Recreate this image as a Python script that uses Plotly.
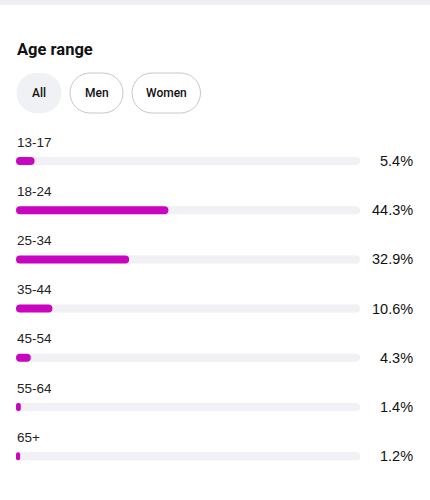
import plotly.graph_objects as go

categories = ["13-17", "18-24", "25-34", "35-44", "45-54", "55-64", "65+"]
values = [5.4, 44.3, 32.9, 10.6, 4.3, 1.4, 1.2]
value_labels = ["5.4%", "44.3%", "32.9%", "10.6%", "4.3%", "1.4%", "1.2%"]
full_scale = [100] * 7
buttons = ["All", "Men", "Women"]
title = "Age range"

W, H = 430, 500
ML, MR, MT, MB = 16, 70, 130, 20
PW = W - ML - MR
PH = H - MT - MB
ROW0, ROWSTEP = 161, 49.2

def py_to_y(py):
    return (py - ROW0) / ROWSTEP

def px_to_paper(px):
    return (px - ML) / PW

def py_to_paper(py):
    return (H - MB - py) / PH

idx = list(range(len(categories)))
bar_w = 8 / ROWSTEP
zero_base = [0] * len(categories)

fig = go.Figure()
fig.add_trace(go.Bar(
    x=full_scale, base=zero_base, y=idx, orientation="h", width=bar_w,
    marker=dict(color="#f0f0f5", line=dict(width=0), cornerradius=4), hoverinfo="skip",
))
fig.add_trace(go.Bar(
    x=values, base=zero_base, y=idx, orientation="h", width=bar_w,
    marker=dict(color="#c806bf", line=dict(width=0), cornerradius=4),
    hovertext=[f"{c}: {l}" for c, l in zip(categories, value_labels)], hoverinfo="text",
))

annotations = []
for i, (c, lab) in enumerate(zip(categories, value_labels)):
    annotations.append(dict(
        x=px_to_paper(15), y=py_to_paper(ROW0 + i * ROWSTEP - 19), xref="paper", yref="paper", text=c,
        showarrow=False, xanchor="left", yanchor="middle",
        font=dict(family="Liberation Sans", size=13.5, color="#222222"),
    ))
    annotations.append(dict(
        x=px_to_paper(415), y=py_to_paper(ROW0 + i * ROWSTEP), xref="paper", yref="paper", text=lab,
        showarrow=False, xanchor="right", yanchor="middle",
        font=dict(family="Liberation Sans", size=14.5, color="#111111"),
    ))

annotations.append(dict(
    x=px_to_paper(15), y=py_to_paper(50), xref="paper", yref="paper", text=title,
    showarrow=False, xanchor="left", yanchor="middle",
    font=dict(family="Roboto", size=16.5, color="#111111", weight=700),
))

shapes = [dict(type="rect", xref="paper", yref="paper", x0=px_to_paper(0), x1=px_to_paper(W),
               y0=py_to_paper(5), y1=py_to_paper(0), fillcolor="#eef0f5", line=dict(width=0), layer="below")]

def pill(w, h):
    r = h / 2
    k = 0.5523 * r
    x0, x1 = -w / 2, w / 2
    y0, y1 = -h / 2, h / 2
    return (f"M {x0 + r},{y0} L {x1 - r},{y0} "
            f"C {x1 - r + k},{y0} {x1},{-k} {x1},0 "
            f"C {x1},{k} {x1 - r + k},{y1} {x1 - r},{y1} "
            f"L {x0 + r},{y1} "
            f"C {x0 + r - k},{y1} {x0},{k} {x0},0 "
            f"C {x0},{-k} {x0 + r - k},{y0} {x0 + r},{y0} Z")

btn_boxes = [(16.5, 61.5), (70, 123), (132, 200.5)]
for i, (b, (bx0, bx1)) in enumerate(zip(buttons, btn_boxes)):
    cx = (bx0 + bx1) / 2
    w = bx1 - bx0
    if i == 0:
        fill, line = "#f0f1f5", dict(width=0)
    else:
        fill, line = "#ffffff", dict(width=1, color="#c8c8c8")
    shapes.append(dict(type="path", xref="paper", yref="paper", xsizemode="pixel", ysizemode="pixel",
                       xanchor=px_to_paper(cx), yanchor=py_to_paper(93), path=pill(w, 40),
                       fillcolor=fill, line=line))
    annotations.append(dict(
        x=px_to_paper(cx), y=py_to_paper(93), xref="paper", yref="paper", text=b, showarrow=False,
        xanchor="center", yanchor="middle", font=dict(family="Roboto", size=12, color="#111111", weight=500),
    ))

fig.update_layout(
    width=W, height=H, margin=dict(l=ML, r=MR, t=MT, b=MB),
    paper_bgcolor="white", plot_bgcolor="white",
    barmode="overlay", showlegend=False,
    xaxis=dict(range=[0, 100], visible=False, fixedrange=True),
    yaxis=dict(range=[py_to_y(H - MB), py_to_y(MT)], visible=False, fixedrange=True),
    annotations=annotations, shapes=shapes,
)

fig.write_html("out.html")
